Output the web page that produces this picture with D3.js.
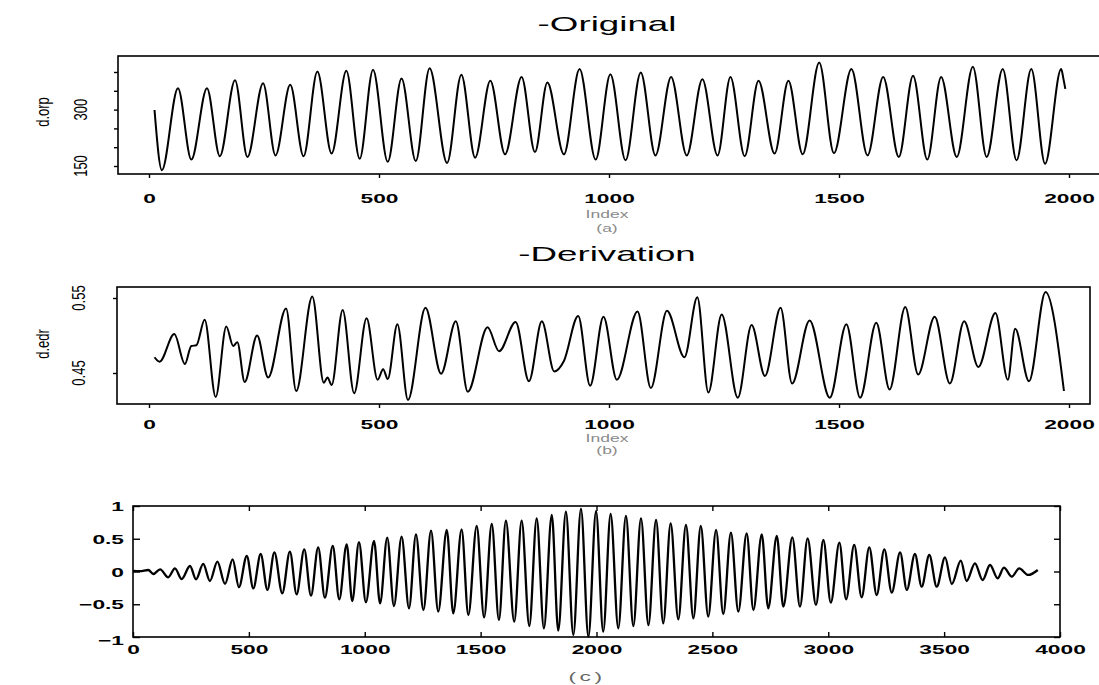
<!DOCTYPE html>
<html>
<head>
<meta charset="utf-8">
<script src="https://cdnjs.cloudflare.com/ajax/libs/d3/7.8.5/d3.min.js"></script>
<style>
    body { margin: 0; background: #fff; }
    svg { display: block; background: #fff; }
    .box { fill: none; stroke: #000; stroke-width: 1.6; }
    .trace { fill: none; stroke: #000; stroke-width: 2; stroke-linejoin: round; }
    .trace.thick { stroke-width: 2.3; }
    .tick line { stroke: #000; stroke-width: 1.4; }
    text { font-family: "Liberation Sans", Arial, sans-serif; fill: #000; }
</style>
</head>
<body>
<div id="chart"></div>
<script>
// DATA (peaks / troughs)
const orpIndex = [12, 28, 63, 92, 126, 154, 187, 214, 248, 275,
    307, 336, 366, 397, 429, 458, 487, 519, 549, 580,
    610, 648, 679, 709, 742, 774, 810, 839, 866, 902,
    936, 971, 1003, 1036, 1069, 1101, 1135, 1169, 1203, 1236,
    1264, 1295, 1325, 1360, 1390, 1421, 1457, 1489, 1527, 1562,
    1596, 1630, 1661, 1692, 1722, 1756, 1791, 1821, 1856, 1886,
    1918, 1948, 1983, 1988, 1992];
const orpValue = [299, 139, 357, 167, 357, 176, 378, 174, 370, 178,
    366, 176, 401, 183, 403, 169, 406, 161, 383, 163,
    410, 158, 393, 172, 377, 181, 387, 187, 372, 181,
    408, 167, 394, 165, 399, 178, 387, 178, 381, 178,
    387, 176, 377, 183, 377, 181, 425, 184, 408, 178,
    387, 174, 390, 167, 387, 174, 414, 174, 408, 165,
    408, 156, 408, 381, 355];

const edrIndex = [12, 23, 55, 78, 92, 103, 121, 145, 168, 183,
    192, 208, 235, 259, 298, 320, 355, 380, 388, 397,
    421, 446, 473, 497, 509, 519, 540, 563, 601, 635,
    667, 693, 736, 761, 797, 826, 854, 881, 902, 933,
    959, 988, 1017, 1062, 1091, 1126, 1164, 1192, 1216, 1245,
    1280, 1310, 1339, 1373, 1398, 1436, 1480, 1516, 1546, 1581,
    1610, 1644, 1672, 1708, 1741, 1772, 1803, 1840, 1867, 1883,
    1913, 1949, 1989];
const edrValue = [0.471, 0.465, 0.502, 0.462, 0.486, 0.487, 0.521, 0.418, 0.512, 0.486,
    0.491, 0.438, 0.500, 0.444, 0.536, 0.426, 0.552, 0.437, 0.444, 0.434,
    0.534, 0.423, 0.523, 0.441, 0.455, 0.442, 0.515, 0.414, 0.537, 0.449,
    0.519, 0.425, 0.511, 0.479, 0.518, 0.439, 0.519, 0.452, 0.466, 0.526,
    0.433, 0.525, 0.441, 0.532, 0.430, 0.533, 0.471, 0.551, 0.424, 0.528,
    0.417, 0.514, 0.446, 0.537, 0.436, 0.520, 0.417, 0.515, 0.417, 0.517,
    0.428, 0.538, 0.448, 0.525, 0.436, 0.519, 0.458, 0.530, 0.441, 0.509,
    0.439, 0.558, 0.426];

const sigIndex = [1, 30, 66, 88, 117, 152, 181, 210, 246, 272,
    303, 332, 364, 397, 430, 457, 491, 519, 551, 580,
    610, 644, 677, 706, 739, 768, 799, 828, 862, 890,
    922, 946, 975, 1005, 1040, 1066, 1097, 1126, 1159, 1191,
    1221, 1253, 1286, 1317, 1354, 1382, 1418, 1447, 1483, 1515,
    1548, 1579, 1609, 1645, 1677, 1710, 1742, 1773, 1807, 1835,
    1868, 1900, 1933, 1965, 1998, 2029, 2061, 2094, 2127, 2159,
    2192, 2224, 2257, 2288, 2320, 2353, 2386, 2418, 2450, 2482,
    2516, 2547, 2580, 2612, 2648, 2677, 2713, 2741, 2778, 2806,
    2845, 2878, 2911, 2947, 2979, 3011, 3048, 3077, 3112, 3144,
    3177, 3209, 3242, 3274, 3310, 3339, 3374, 3403, 3436, 3468,
    3504, 3533, 3572, 3597, 3633, 3666, 3698, 3731, 3758, 3792,
    3824, 3863, 3904];
const sigValue = [0.008, 0.005, 0.023, -0.038, 0.033, -0.089, 0.048, -0.115, 0.084, -0.12,
    0.115, -0.145, 0.15, -0.19, 0.186, -0.24, 0.237, -0.257, 0.267, -0.282,
    0.293, -0.333, 0.303, -0.349, 0.338, -0.369, 0.369, -0.40, 0.389, -0.425,
    0.415, -0.45, 0.45, -0.47, 0.466, -0.486, 0.517, -0.527, 0.532, -0.562,
    0.567, -0.588, 0.623, -0.613, 0.634, -0.639, 0.644, -0.664, 0.695, -0.70,
    0.725, -0.74, 0.776, -0.766, 0.776, -0.832, 0.812, -0.868, 0.863, -0.903,
    0.913, -0.969, 0.96, -0.995, 0.92, -0.919, 0.878, -0.868, 0.847, -0.832,
    0.812, -0.817, 0.786, -0.791, 0.735, -0.73, 0.71, -0.715, 0.695, -0.69,
    0.634, -0.649, 0.593, -0.613, 0.583, -0.588, 0.567, -0.562, 0.542, -0.537,
    0.522, -0.537, 0.506, -0.511, 0.481, -0.476, 0.44, -0.425, 0.405, -0.394,
    0.369, -0.359, 0.338, -0.323, 0.293, -0.282, 0.267, -0.232, 0.252, -0.232,
    0.216, -0.191, 0.165, -0.145, 0.125, -0.13, 0.099, -0.104, 0.059, -0.079,
    0.048, -0.053, 0.023];

const indexTicks = [0, 500, 1000, 1500, 2000];
const orpTicks = [150, 200, 250, 300, 350, 400];
const orpLabels = [150, 300];
const edrTicks = [0.45, 0.55];
const sigXTicks = [0, 500, 1000, 1500, 2000, 2500, 3000, 3500, 4000];
const sigYTicks = [-1, -0.5, 0, 0.5, 1];
const titles = ["-Original", "-Derivation"];
const yNames = ["d.orp", "d.edr"];
const captions = ["(a)", "(b)", "(c)"];

// the scan is stretched sideways, so is the text
const stretch = 1.75;

// CHART SETUP
const svg = d3.select("#chart")
    .append("svg")
    .attr("width", 1099)
    .attr("height", 685);

const x12 = d3.scaleLinear().domain([0, 2000]).range([149, 1069]);
const yOrp = d3.scaleLinear().domain([150, 400]).range([166, 72]);
const yEdr = d3.scaleLinear().domain([0.45, 0.55]).range([373, 298]);
const x3 = d3.scaleLinear().domain([0, 4000]).range([133, 1060]);
const y3 = d3.scaleLinear().domain([-1, 1]).range([637, 506]);

function box(l, t, r, b) {
    svg.append("rect").classed("box", true)
        .attr("x", l).attr("y", t)
        .attr("width", r - l).attr("height", b - t);
}

function trace(xs, ys, x, y, cls) {
    svg.append("path")
        .datum(d3.zip(xs, ys))
        .attr("class", cls || "trace")
        .attr("d", d3.line()
            .x(d => x(d[0]))
            .y(d => y(d[1]))
            .curve(d3.curveMonotoneX));
}

function wideText(x, y, str, size, weight, rotate) {
    return svg.append("text")
        .attr("transform", `translate(${x},${y}) scale(${rotate ? 1.45 : stretch},1)${rotate ? " rotate(-90)" : ""}`)
        .attr("text-anchor", "middle")
        .attr("dy", "0.36em")
        .style("font-size", size + "px")
        .style("font-weight", weight || "normal")
        .text(str);
}

function cleanAxis(g) {
    g.select(".domain").remove();
    g.attr("font-size", null).attr("font-family", null);
}

function bottomLabels(g, offset) {
    g.selectAll("text")
        .attr("y", null)
        .attr("dy", "0.36em")
        .attr("transform", `translate(0,${offset}) scale(${stretch},1)`)
        .style("font-size", "13px")
        .style("font-weight", "bold");
}

// PANEL (a)
box(118, 56, 1101, 174);
trace(orpIndex, orpValue, x12, yOrp);

const ax1 = svg.append("g").attr("transform", "translate(0,174)")
    .call(d3.axisBottom(x12).tickValues(indexTicks).tickSize(4).tickSizeOuter(0).tickFormat(d3.format("d")));
cleanAxis(ax1);
bottomLabels(ax1, 24);

const ay1 = svg.append("g").attr("transform", "translate(118,0)")
    .call(d3.axisLeft(yOrp).tickValues(orpTicks).tickSize(4).tickSizeOuter(0).tickFormat(""));
cleanAxis(ay1);

orpLabels.forEach(v => wideText(80, yOrp(v), v, 13, "normal", true));
wideText(42, 112, yNames[0], 13, "normal", true);

wideText(607, 23, titles[0], 21);
wideText(607, 214, "Index", 10).style("fill", "#8a8a8a");
wideText(607, 228, captions[0], 10).style("fill", "#8a8a8a");

// PANEL (b)
box(117, 287, 1090, 404);
trace(edrIndex, edrValue, x12, yEdr);

const ax2 = svg.append("g").attr("transform", "translate(0,404)")
    .call(d3.axisBottom(x12).tickValues(indexTicks).tickSize(4).tickSizeOuter(0).tickFormat(d3.format("d")));
cleanAxis(ax2);
bottomLabels(ax2, 20);

const ay2 = svg.append("g").attr("transform", "translate(117,0)")
    .call(d3.axisLeft(yEdr).tickValues(edrTicks).tickSize(4).tickSizeOuter(0).tickFormat(""));
cleanAxis(ay2);

edrTicks.forEach(v => wideText(78, yEdr(v), d3.format(".2f")(v), 13, "normal", true));
wideText(42, 344, yNames[1], 13, "normal", true);

wideText(607, 253, titles[1], 21);
wideText(607, 438, "Index", 10).style("fill", "#8a8a8a");
wideText(607, 450, captions[1], 10).style("fill", "#8a8a8a");

// PANEL (c)
box(133, 506, 1060, 637);
trace(sigIndex, sigValue, x3, y3, "trace thick");

const ax3 = svg.append("g").attr("transform", "translate(0,637)")
    .call(d3.axisBottom(x3).tickValues(sigXTicks).tickSize(-5).tickSizeOuter(0).tickFormat(d3.format("d")));
cleanAxis(ax3);
bottomLabels(ax3, 12);

const at3 = svg.append("g").attr("transform", "translate(0,506)")
    .call(d3.axisTop(x3).tickValues(sigXTicks).tickSize(-5).tickSizeOuter(0).tickFormat(""));
cleanAxis(at3);

const ar3 = svg.append("g").attr("transform", "translate(1060,0)")
    .call(d3.axisRight(y3).tickValues(sigYTicks).tickSize(-6).tickSizeOuter(0).tickFormat(""));
cleanAxis(ar3);

const ay3 = svg.append("g").attr("transform", "translate(133,0)")
    .call(d3.axisLeft(y3).tickValues(sigYTicks).tickSize(-7).tickSizeOuter(0).tickFormat(d3.format("")));
cleanAxis(ay3);
ay3.selectAll("text")
    .attr("x", null)
    .attr("dy", "0.36em")
    .attr("text-anchor", "end")
    .attr("transform", d => `translate(-9,${d === -1 ? 3 : 0}) scale(${stretch},1)`)
    .style("font-size", "13px")
    .style("font-weight", "bold");

wideText(587, 676, captions[2], 13).style("fill", "#666").style("letter-spacing", "2px");
</script>
</body>
</html>
